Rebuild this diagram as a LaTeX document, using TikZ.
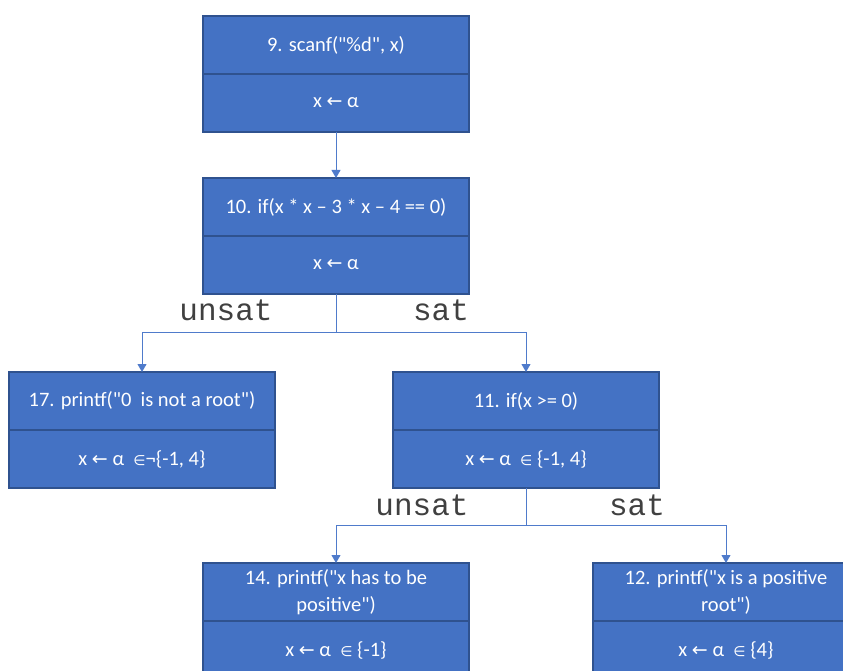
\documentclass[tikz,border=0pt]{standalone}
\usepackage{fontspec}
\setmainfont{Carlito}[Ligatures=TeXOff]
\newfontfamily\monofont{Liberation Mono}
\newfontfamily\symfont{DejaVu Sans}
\usepackage{xcolor}
\usetikzlibrary{arrows.meta,positioning}

\definecolor{boxfill}{HTML}{4472C4}
\definecolor{boxline}{HTML}{2F528F}
\definecolor{edgeblue}{HTML}{4F7BCB}

\newcommand{\getsym}{{\symfont\fontsize{19}{19}\selectfont ←}}
\newcommand{\insym}{{\symfont\fontsize{14}{14}\selectfont ∈}}

\begin{document}
\begin{tikzpicture}[x=1pt,y=-1pt,
    cell/.style={rectangle,draw=boxline,fill=boxfill,text=white,line width=1.2pt,
      minimum width=266pt,minimum height=58pt,inner sep=0pt,outer sep=0pt,
      align=center,font=\fontsize{20.5}{27}\selectfont},
    edge/.style={draw=edgeblue,line width=0.9pt},
    flow/.style={edge,-{Triangle[width=9pt,length=8pt]}},
    branch/.style={anchor=base,text=black!75,font=\monofont\fontsize{31}{31}\selectfont}]
  \clip (0,0) rectangle (843,671);
  % statements
  \node[cell] (s9) at (336,45) {9. scanf("\%d", x)};
  \node[cell,below=0pt of s9] (v9) {x \getsym\ α};
  \node[cell] (s10) at (336,207) {10. if(x * x – 3 * x – 4 == 0)};
  \node[cell,below=0pt of s10] (v10) {x \getsym\ α};
  \node[cell] (s17) at (142,401) {17. printf("0\ \ is not a root")};
  \node[cell,below=0pt of s17] (v17) {x \getsym\ α\ \ \insym¬\{-1, 4\}};
  \node[cell] (s11) at (526,401) {11. if(x >= 0)};
  \node[cell,below=0pt of s11] (v11) {x \getsym\ α\ \ \insym\ \{-1, 4\}};
  \node[cell] (s14) at (336,592) {14. printf("x has to be\\ positive")};
  \node[cell,below=0pt of s14] (v14) {x \getsym\ α\ \ \insym\ \{-1\}};
  \node[cell] (s12) at (726,592) {12. printf("x is a positive\\ root")};
  \node[cell,below=0pt of s12] (v12) {x \getsym\ α\ \ \insym\ \{4\}};
  % edges
  \draw[flow] (v9) -- (s10);
  \draw[edge] (v10.south) -- ++(0,38) coordinate (j10);
  \draw[flow] (j10) -| (s17.north);
  \draw[flow] (j10) -| (s11.north);
  \draw[edge] (v11.south) -- ++(0,37) coordinate (j11);
  \draw[flow] (j11) -| (s14.north);
  \draw[flow] (j11) -| (s12.north);
  % branch labels
  \node[branch] (u10) at (226,320) {unsat};
  \node[branch] (t10) at (441,320) {sat};
  \node[branch] (u11) at (422,515) {unsat};
  \node[branch] (t11) at (637,515) {sat};
\end{tikzpicture}
\end{document}
